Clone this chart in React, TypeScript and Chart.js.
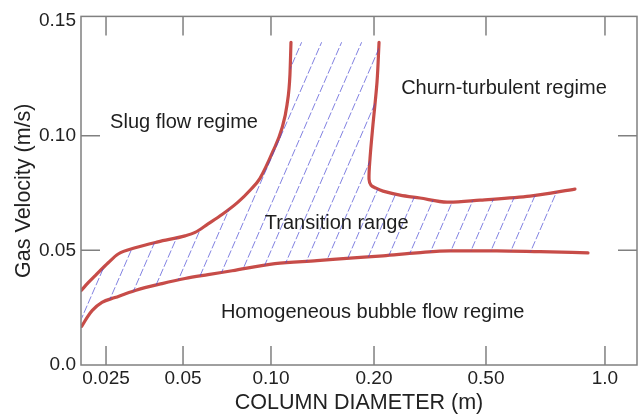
import React, { useEffect, useRef } from 'react';
import { Chart, registerables } from 'chart.js';

Chart.register(...registerables);

// ---- axis definition (the reference uses an uneven, hand-drawn diameter scale) ----
const xTickDiameters = [0.025, 0.05, 0.1, 0.2, 0.5, 1.0];
const xTickLabels = ['0.025', '0.05', '0.10', '0.20', '0.50', '1.0'];
const xTickSlots = [0.45, 1.835, 3.417, 5.27, 7.284, 9.424];
const yTickValues = [0, 0.05, 0.1, 0.15];
const yTickLabels = ['0.0', '0.05', '0.10', '0.15'];

// ---- boundary curves: column diameter (m) vs gas velocity (m/s) ----
const slugBoundaryD = [0.02, 0.0213, 0.0227, 0.0255, 0.0279, 0.0325, 0.0399, 0.0508, 0.055, 0.0609, 0.068, 0.0771, 0.0848, 0.0917, 0.1013, 0.1076, 0.1114, 0.1136, 0.1144];
const slugBoundaryV = [0.0325, 0.0359, 0.039, 0.0446, 0.0484, 0.0511, 0.0537, 0.0563, 0.0578, 0.0615, 0.0656, 0.071, 0.0762, 0.0814, 0.0931, 0.1031, 0.1135, 0.1265, 0.1407];

const bubbleBoundaryD = [0.0201, 0.0211, 0.0221, 0.0241, 0.0271, 0.0325, 0.0414, 0.0508, 0.0609, 0.0736, 0.1027, 0.1363, 0.1702, 0.2153, 0.2843, 0.3725, 0.533, 0.6848, 0.9057];
const bubbleBoundaryV = [0.0169, 0.0208, 0.0238, 0.0273, 0.0294, 0.0325, 0.0355, 0.0377, 0.0394, 0.0411, 0.0442, 0.0455, 0.0466, 0.0476, 0.0489, 0.0498, 0.0498, 0.0494, 0.0489];

const churnBoundaryD = [0.2084, 0.205, 0.1986, 0.1947, 0.1934, 0.196, 0.2033, 0.2153, 0.2474, 0.2914, 0.3634, 0.4762, 0.6461, 0.8396];
const churnBoundaryV = [0.1407, 0.1234, 0.1048, 0.0901, 0.081, 0.0784, 0.0771, 0.0758, 0.0741, 0.0728, 0.071, 0.0719, 0.0736, 0.0767];

// lower-right corner where the hatched transition range ends on the bubble boundary
const transitionEdgeD = [0.705];
const transitionEdgeV = [0.0494];

// ---- region labels ----
const regionLabels = ['Slug flow regime', 'Churn-turbulent regime', 'Transition range', 'Homogeneous bubble flow regime'];
const regionLabelD = [0.0504, 0.5553, 0.1556, 0.1982];
const regionLabelV = [0.1057, 0.1204, 0.0615, 0.023];

const FONT = "'Liberation Sans', Arial, Helvetica, sans-serif";
const RED = 'rgb(199,76,72)';
const FRAME = '#808080';

function diamToAxis(d: number): number {
  const logs = xTickDiameters.map((v) => Math.log10(v));
  const L = Math.log10(d);
  const n = logs.length;
  let i = 0;
  if (L >= logs[n - 1]) i = n - 2;
  else while (i < n - 2 && L > logs[i + 1]) i++;
  const t = (L - logs[i]) / (logs[i + 1] - logs[i]);
  return xTickSlots[i] + t * (xTickSlots[i + 1] - xTickSlots[i]);
}

function toPoints(ds: number[], vs: number[]) {
  return ds.map((d, i) => ({ x: diamToAxis(d), y: vs[i] }));
}

function makeHatch(): CanvasPattern | string {
  const w = 20;
  const h = 46;
  const c = document.createElement('canvas');
  c.width = w;
  c.height = h;
  const g = c.getContext('2d');
  if (!g) return 'rgba(70,70,205,0.3)';
  g.strokeStyle = 'rgba(70,70,210,0.8)';
  g.lineWidth = 0.85;
  const len = Math.sqrt(w * w + h * h);
  const period = len / 5;
  g.setLineDash([period * 0.78, period * 0.22]);
  for (const dx of [-w, 0, w]) {
    g.beginPath();
    g.moveTo(dx, h);
    g.lineTo(dx + w, 0);
    g.stroke();
  }
  return g.createPattern(c, 'repeat') || 'rgba(70,70,205,0.3)';
}

const framePlugin = {
  id: 'frameTicks',
  afterDatasetsDraw(chart: any) {
    const { ctx, chartArea: a, scales } = chart;
    const x = scales.x;
    const y = scales.y;
    const len = 19;
    ctx.save();
    ctx.strokeStyle = FRAME;
    ctx.lineWidth = 1.5;
    ctx.strokeRect(a.left, a.top, a.right - a.left, a.bottom - a.top);
    ctx.beginPath();
    x.ticks.forEach((t: any) => {
      const px = x.getPixelForValue(t.value);
      ctx.moveTo(px, a.bottom);
      ctx.lineTo(px, a.bottom - len);
      ctx.moveTo(px, a.top);
      ctx.lineTo(px, a.top + len);
    });
    y.ticks.forEach((t: any, i: number) => {
      if (i === 0 || i === y.ticks.length - 1) return;
      const py = y.getPixelForValue(t.value);
      ctx.moveTo(a.left, py);
      ctx.lineTo(a.left + len, py);
      ctx.moveTo(a.right, py);
      ctx.lineTo(a.right - len, py);
    });
    ctx.stroke();
    ctx.restore();
  },
};

const labelPlugin = {
  id: 'regionLabels',
  afterDatasetsDraw(chart: any) {
    const { ctx, scales } = chart;
    ctx.save();
    ctx.font = `20px ${FONT}`;
    ctx.fillStyle = '#1e1e1e';
    ctx.textAlign = 'center';
    ctx.textBaseline = 'middle';
    regionLabels.forEach((txt, i) => {
      const px = scales.x.getPixelForValue(diamToAxis(regionLabelD[i]));
      const py = scales.y.getPixelForValue(regionLabelV[i]);
      ctx.fillText(txt, px, py);
    });
    ctx.restore();
  },
};

export default function App() {
  const ref = useRef<HTMLCanvasElement | null>(null);

  useEffect(() => {
    document.body.style.margin = '0';
    const canvas = ref.current;
    if (!canvas) return;

    const regionD = [
      ...slugBoundaryD,
      ...churnBoundaryD,
      ...transitionEdgeD,
      ...bubbleBoundaryD.filter((d) => d < transitionEdgeD[0]).reverse(),
    ];
    const regionV = [
      ...slugBoundaryV,
      ...churnBoundaryV,
      ...transitionEdgeV,
      ...bubbleBoundaryV.filter((_, i) => bubbleBoundaryD[i] < transitionEdgeD[0]).reverse(),
    ];

    const lineStyle = {
      showLine: true,
      borderColor: RED,
      borderWidth: 3.2,
      pointRadius: 0,
      fill: false,
      borderCapStyle: 'round' as const,
      borderJoinStyle: 'round' as const,
    };

    const chart = new Chart(canvas, {
      type: 'scatter',
      data: {
        datasets: [
          {
            label: 'Transition range',
            data: toPoints(regionD, regionV),
            showLine: true,
            borderWidth: 0,
            borderColor: 'rgba(0,0,0,0)',
            backgroundColor: makeHatch() as any,
            pointRadius: 0,
            tension: 0,
            fill: 'shape' as any,
          },
          { label: 'Slug boundary', data: toPoints(slugBoundaryD, slugBoundaryV), ...lineStyle, cubicInterpolationMode: 'monotone' as const },
          { label: 'Bubble boundary', data: toPoints(bubbleBoundaryD, bubbleBoundaryV), ...lineStyle, cubicInterpolationMode: 'monotone' as const },
          { label: 'Churn boundary', data: toPoints(churnBoundaryD, churnBoundaryV), ...lineStyle, tension: 0.3 },
        ],
      },
      options: {
        animation: false,
        responsive: false,
        devicePixelRatio: 1,
        layout: { padding: { left: 0, right: 5, top: 14, bottom: 0 } },
        plugins: { legend: { display: false }, tooltip: { enabled: false } },
        events: [],
        scales: {
          x: {
            type: 'linear',
            min: 0,
            max: 10,
            grid: { display: false, drawTicks: false },
            border: { display: false },
            afterBuildTicks: (axis: any) => {
              axis.ticks = xTickDiameters.map((d) => ({ value: diamToAxis(d) }));
            },
            afterFit: (axis: any) => {
              axis.height = 51;
            },
            ticks: {
              autoSkip: false,
              maxRotation: 0,
              padding: 2,
              color: '#222',
              font: { family: FONT, size: 19 },
              callback: (_v: any, i: number) => xTickLabels[i],
            },
            title: {
              display: true,
              text: 'COLUMN DIAMETER (m)',
              color: '#222',
              font: { family: FONT, size: 21.5 },
              padding: { top: 0, bottom: 0 },
            },
          },
          y: {
            type: 'linear',
            min: 0,
            max: 0.152,
            grid: { display: false, drawTicks: false },
            border: { display: false },
            afterBuildTicks: (axis: any) => {
              axis.ticks = yTickValues.map((v) => ({ value: v }));
            },
            afterFit: (axis: any) => {
              axis.width = 81;
            },
            ticks: {
              autoSkip: false,
              padding: 5,
              color: '#222',
              font: { family: FONT, size: 19 },
              callback: (_v: any, i: number) => yTickLabels[i],
            },
            title: {
              display: true,
              text: 'Gas Velocity (m/s)',
              color: '#222',
              font: { family: FONT, size: 21.5 },
              padding: { top: 11, bottom: 0 },
            },
          },
        },
      },
      plugins: [framePlugin, labelPlugin],
    });

    return () => chart.destroy();
  }, []);

  return (
    <div style={{ width: 642, height: 416 }}>
      <canvas ref={ref} width={642} height={416} style={{ display: 'block' }} />
    </div>
  );
}
